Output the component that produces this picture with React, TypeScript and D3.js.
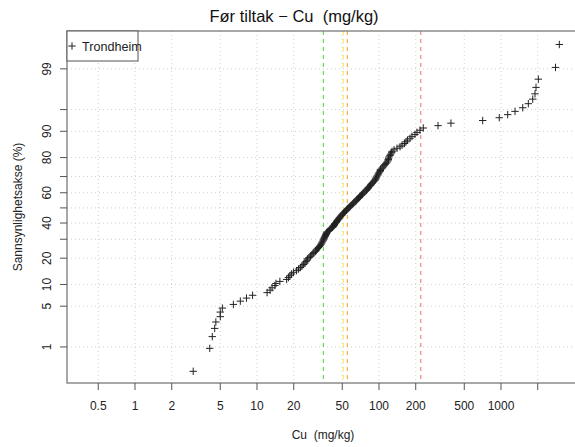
import React from "react";
import * as d3 from "d3";

// Cu concentrations (mg/kg), sorted ascending
const cuValues = [
  3.0, 4.1, 4.3, 4.5, 4.6, 5.0, 5.0, 5.2, 6.4, 7.3,
  8.2, 9.2, 12.1, 12.8, 13.3, 14.0, 14.3, 15.4, 17.5, 18.1,
  18.6, 19.2, 19.9, 21.1, 21.9, 22.7, 23.4, 24.1, 24.7, 25.2,
  25.7, 25.9, 26.7, 27.5, 28.1, 28.8, 29.3, 30.2, 30.7, 31.3,
  31.9, 32.5, 33.1, 33.5, 33.9, 34.3, 34.8, 35.1, 35.4, 35.7,
  36.1, 36.4, 36.8, 37.1, 37.5, 38.2, 38.9, 39.5, 40.4, 41.6,
  42.2, 42.8, 43.2, 43.6, 44.4, 45.0, 45.5, 46.1, 46.8, 47.4,
  48.2, 48.8, 49.8, 50.2, 51.2, 52.2, 53.1, 54.2, 54.7, 55.7,
  56.8, 57.8, 58.9, 60.1, 61.2, 62.1, 63.5, 64.7, 65.6, 66.6,
  67.9, 69.2, 70.5, 71.9, 73.2, 73.9, 75.4, 76.8, 79.0, 79.8,
  81.3, 82.0, 83.6, 85.2, 86.0, 87.6, 89.3, 91.0, 92.7, 93.6,
  94.5, 95.4, 96.3, 98.1, 99.0, 100, 101.9, 102.5, 102.9, 105.8,
  107.9, 109.9, 112.0, 114.1, 116.3, 118.5, 119.2, 119.7, 120.8, 123.1,
  124.3, 127.1, 127.9, 132.8, 140.5, 148.7, 154.5, 161.9, 166.4, 171.3,
  179.6, 186.4, 197.2, 204.8, 216.7, 230.7, 304.7, 388.8, 708, 968,
  1135, 1303, 1507, 1675, 1820, 1900, 1936, 2023, 2798, 3006,
];

// Class limits drawn as dashed vertical lines
const limitValues = [35, 51, 55, 220];
const limitColors = ["#55dd44", "#ffe34d", "#f7a532", "#f27777"];

// Axis ticks
const xTicks = [0.5, 1, 2, 5, 10, 20, 50, 100, 200, 500, 1000, 2000];
const xTickLabels = ["0.5", "1", "2", "5", "10", "20", "50", "100", "200", "500", "1000", ""];
const yTicks = [1, 5, 10, 20, 30, 40, 50, 60, 70, 80, 90, 95, 99];
const yTickLabels = ["1", "5", "10", "20", "", "40", "", "60", "", "80", "90", "", "99"];

const seriesName = "Trondheim";

// Inverse standard normal CDF (Acklam's rational approximation)
function qnorm(p: number): number {
  const a = [-39.69683028665376, 220.9460984245205, -275.9285104469687, 138.357751867269, -30.66479806614716, 2.506628274631];
  const b = [-54.47609879822406, 161.5858368580409, -155.6989798598866, 66.80131188771972, -13.28068155288572];
  const c = [-0.007784894002430293, -0.3223964580411365, -2.400758277161838, -2.549732539343734, 4.374664141464968, 2.938163982698783];
  const d = [0.007784695709041462, 0.3224671290700398, 2.445134137142996, 3.754408661907416];
  const pl = 0.02425;
  if (p < pl) {
    const q = Math.sqrt(-2 * Math.log(p));
    return (((((c[0] * q + c[1]) * q + c[2]) * q + c[3]) * q + c[4]) * q + c[5]) /
      ((((d[0] * q + d[1]) * q + d[2]) * q + d[3]) * q + 1);
  }
  if (p > 1 - pl) {
    const q = Math.sqrt(-2 * Math.log(1 - p));
    return -(((((c[0] * q + c[1]) * q + c[2]) * q + c[3]) * q + c[4]) * q + c[5]) /
      ((((d[0] * q + d[1]) * q + d[2]) * q + d[3]) * q + 1);
  }
  const q = p - 0.5;
  const r = q * q;
  return (((((a[0] * r + a[1]) * r + a[2]) * r + a[3]) * r + a[4]) * r + a[5]) * q /
    (((((b[0] * r + b[1]) * r + b[2]) * r + b[3]) * r + b[4]) * r + 1);
}

const W = 575;
const H = 447;
const plot = { left: 67, right: 582, top: 31, bottom: 383 };
const font = "'Liberation Sans', Arial, Helvetica, sans-serif";

export default function App() {
  const x = d3.scaleLog().domain([0.2771, 4500]).range([plot.left, plot.left + (Math.log10(4500) - Math.log10(0.2771)) * 122]);
  const y = d3.scaleLinear().domain([-2.93, 2.96]).range([plot.bottom, plot.top]);
  const n = cuValues.length;
  const pts = cuValues.map((v, i) => ({ px: x(v), py: y(qnorm((i + 0.5) / n)) }));
  const cross = 3.7;

  return (
    <svg width={W} height={H} style={{ position: "absolute", left: 0, top: 0, background: "#fff" }} fontFamily={font}>
      <defs>
        <clipPath id="plotClip">
          <rect x={plot.left} y={plot.top} width={plot.right - plot.left} height={plot.bottom - plot.top} />
        </clipPath>
      </defs>

      {/* grid */}
      <g stroke="#cfcfcf" strokeWidth={1} strokeDasharray="1,3">
        {xTicks.map((t) => (
          <line key={"gx" + t} x1={x(t)} x2={x(t)} y1={plot.top} y2={plot.bottom} />
        ))}
        {yTicks.map((t) => (
          <line key={"gy" + t} x1={plot.left} x2={plot.right} y1={y(qnorm(t / 100))} y2={y(qnorm(t / 100))} />
        ))}
      </g>

      {/* class limits */}
      {limitValues.map((v, i) => (
        <line key={"lim" + v} x1={x(v)} x2={x(v)} y1={plot.top} y2={plot.bottom}
          stroke={limitColors[i]} strokeWidth={1.1} strokeDasharray="4,4" />
      ))}

      {/* points */}
      <g clipPath="url(#plotClip)" stroke="#222" strokeWidth={1}>
        {pts.map((p, i) => (
          <g key={"p" + i}>
            <line x1={p.px - cross} x2={p.px + cross} y1={p.py} y2={p.py} />
            <line x1={p.px} x2={p.px} y1={p.py - cross} y2={p.py + cross} />
          </g>
        ))}
      </g>

      {/* box */}
      <rect x={plot.left} y={plot.top} width={plot.right - plot.left} height={plot.bottom - plot.top}
        fill="none" stroke="#7a7a7a" strokeWidth={1.3} />

      {/* x axis */}
      <g stroke="#555" strokeWidth={1}>
        {xTicks.map((t) => (
          <line key={"tx" + t} x1={x(t)} x2={x(t)} y1={plot.bottom} y2={plot.bottom + 7} />
        ))}
      </g>
      <g fontSize={12} fill="#222" textAnchor="middle">
        {xTicks.map((t, i) => (
          <text key={"lx" + t} x={x(t)} y={410}>{xTickLabels[i]}</text>
        ))}
      </g>
      <text x={323} y={439} fontSize={12} fill="#222" textAnchor="middle" style={{ whiteSpace: "pre" }}>{"Cu  (mg/kg)"}</text>

      {/* y axis */}
      <g stroke="#555" strokeWidth={1}>
        {yTicks.map((t) => (
          <line key={"ty" + t} x1={plot.left - 7} x2={plot.left} y1={y(qnorm(t / 100))} y2={y(qnorm(t / 100))} />
        ))}
      </g>
      <g fontSize={12} fill="#222" textAnchor="middle">
        {yTicks.map((t, i) => {
          const ty = y(qnorm(t / 100));
          return (
            <text key={"ly" + t} x={51} y={ty} transform={`rotate(-90, 51, ${ty})`}>{yTickLabels[i]}</text>
          );
        })}
      </g>
      <text x={22} y={207} fontSize={12} fill="#222" textAnchor="middle" transform="rotate(-90, 22, 207)">
        Sannsynlighetsakse (%)
      </text>

      {/* title */}
      <text x={294} y={22} fontSize={16.5} fill="#111" textAnchor="middle" style={{ whiteSpace: "pre" }}>
        {"Før tiltak \u2212 Cu  (mg/kg)"}
      </text>

      {/* legend */}
      <rect x={plot.left} y={plot.top} width={71} height={30} fill="#fff" stroke="#555" strokeWidth={1} />
      <g stroke="#222" strokeWidth={1}>
        <line x1={72 - cross} x2={72 + cross} y1={46} y2={46} />
        <line x1={72} x2={72} y1={46 - cross} y2={46 + cross} />
      </g>
      <text x={82} y={50.5} fontSize={12.6} fill="#222">{seriesName}</text>
    </svg>
  );
}
